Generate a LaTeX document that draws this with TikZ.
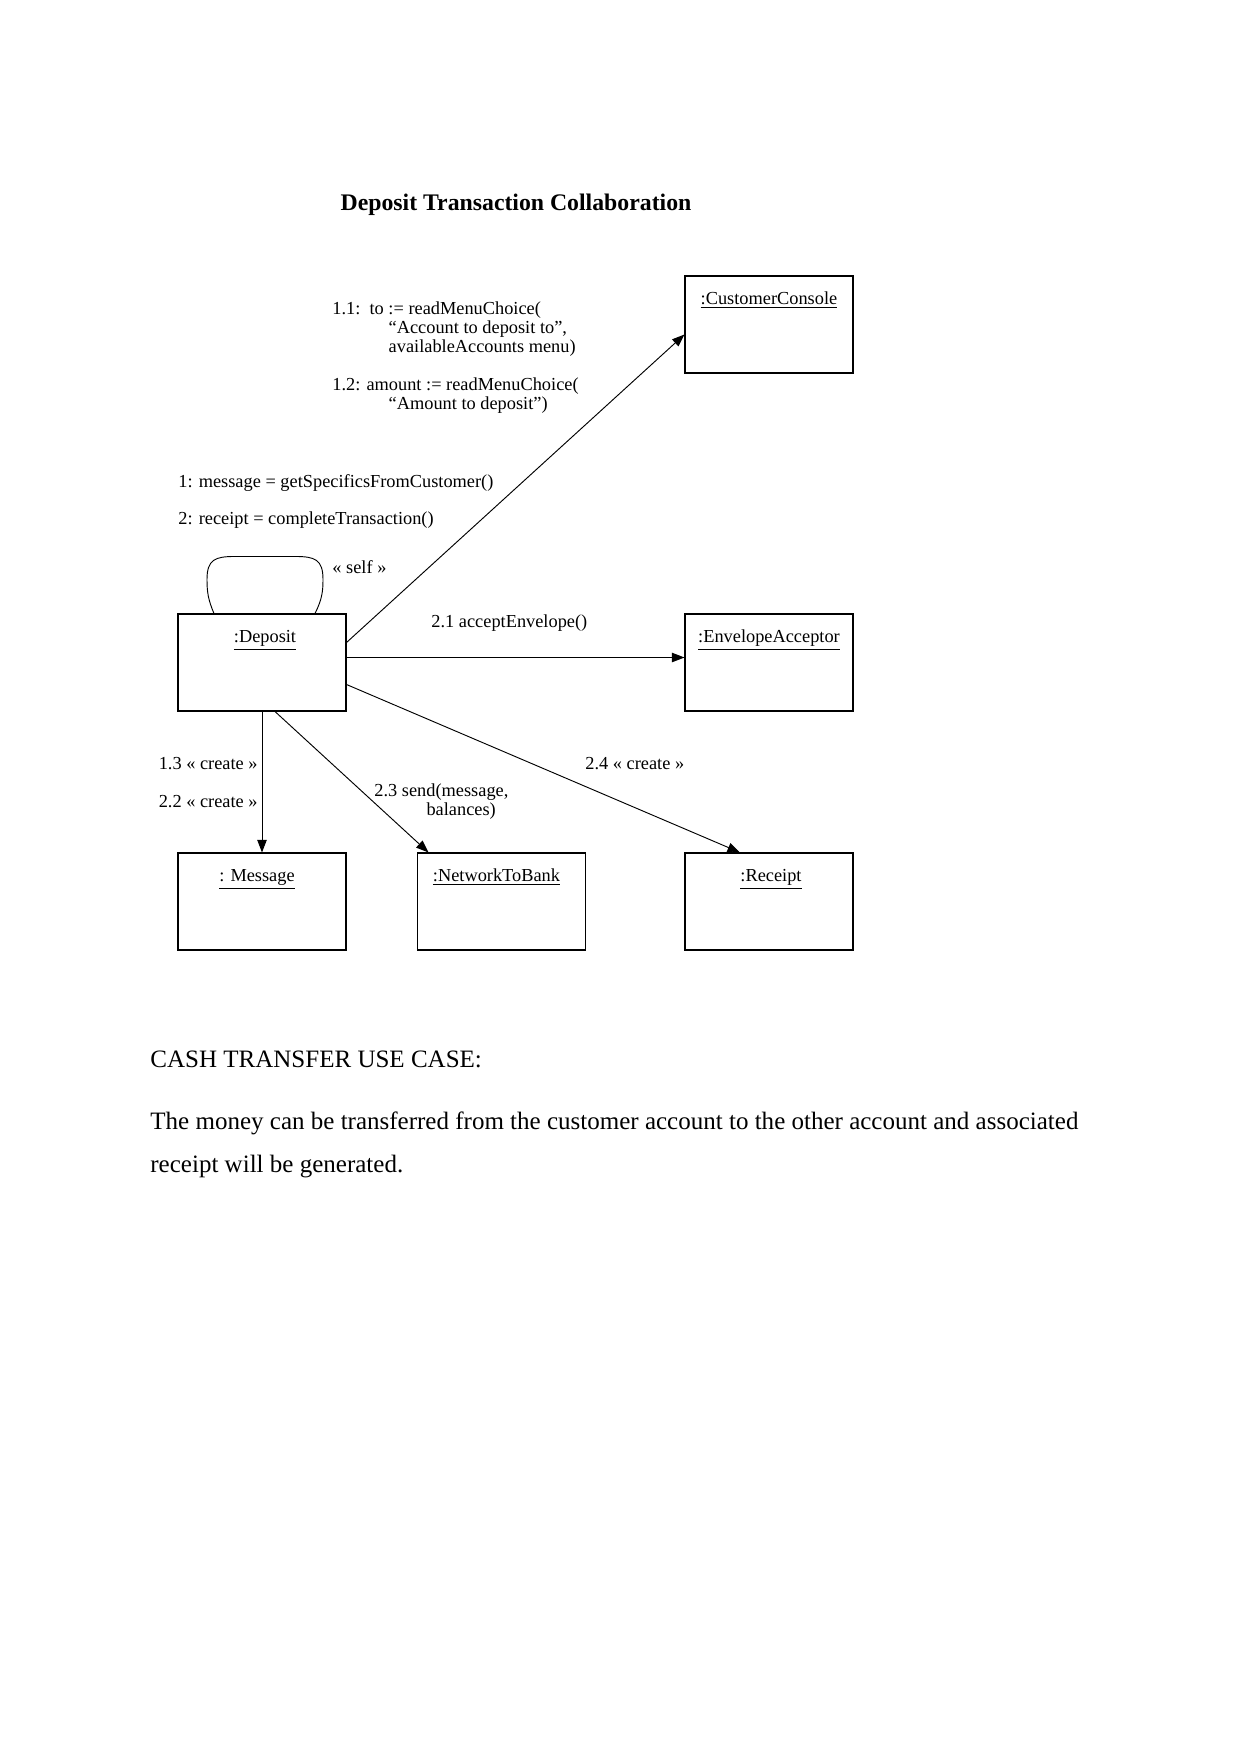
\documentclass[tikz,border=0pt]{standalone}
\usepackage{fontspec}
\setmainfont{Liberation Serif}
\usetikzlibrary{arrows.meta, calc, positioning}

\newcommand{\pxu}{0.4797pt}
\tikzset{
  objbox/.style={draw, line width=0.5pt, minimum width=168*\pxu, minimum height=97*\pxu, inner sep=0pt},
  objname/.style={inner sep=0pt, anchor=base, font=\fontsize{8.8}{9.1}\selectfont},
  msglabel/.style={inner sep=0pt, anchor=west, align=left, font=\fontsize{8.8}{9.1}\selectfont},
  bodytext/.style={inner sep=0pt, anchor=west, font=\fontsize{12}{14}\selectfont},
  conn/.style={line width=0.45pt},
}

\begin{document}
\begin{tikzpicture}[>={Triangle[length=6pt,width=4.5pt]}, x=\pxu, y=-\pxu]
\useasboundingbox (0,0) rectangle (1241,1754);

%------------------------------------------------
% Titolo
%------------------------------------------------
\node[inner sep=0pt, font=\fontsize{11.4}{13}\selectfont\bfseries] (title) at (516,205) {Deposit Transaction Collaboration};

%------------------------------------------------
% Oggetti
%------------------------------------------------
\node[objbox] (cc)  at (769,324.5) {};
\node[objbox] (dep) at (262,662.5) {};
\node[objbox] (env) at (769,662.5) {};
\node[objbox] (msg) at (262,901.5) {};
\node[objbox] (ntb) at (501.5,901.5) {};
\node[objbox] (rec) at (769,901.5) {};

% Nomi degli oggetti
\node[objname] (ccL)  at ($(cc.north)+(0,29)$)  {\underline{:CustomerConsole}};
\node[objname] (depL) at ($(dep.north)+(3,29)$) {\underline{:Deposit}};
\node[objname] (envL) at ($(env.north)+(0,29)$) {\underline{:EnvelopeAcceptor}};
\node[objname] (msgL) at ($(msg.north)+(-5,29)$) {\underline{: Message}};
\node[objname] (ntbL) at ($(ntb.north)+(-5,29)$) {\underline{:NetworkToBank}};
\node[objname] (recL) at ($(rec.north)+(2,29)$) {\underline{:Receipt}};

%------------------------------------------------
% Messaggi
%------------------------------------------------
\node[msglabel] (m11) at (332,329) {1.1:\enspace to := readMenuChoice(\\\hspace*{27pt}“Account to deposit to”,\\\hspace*{27pt}availableAccounts menu)};
\node[msglabel] (m12) at (332,395.5) {1.2: amount := readMenuChoice(\\\hspace*{27pt}“Amount to deposit”)};
\node[msglabel] (m1) at (178,483) {1: message = getSpecificsFromCustomer()};
\node[msglabel] (m2) at (178,520) {2: receipt = completeTransaction()};
\node[msglabel] (self) at (332,567) {« self »};
\node[msglabel] (m21) at (431,623) {2.1 acceptEnvelope()};
\node[msglabel, anchor=east] (m13) at (258,764) {1.3 « create »};
\node[msglabel, anchor=east] (m22) at (258,802) {2.2 « create »};
\node[msglabel] (m24) at (585,764) {2.4 « create »};
\node[msglabel] (m23) at (374,801.5) {2.3 send(message,\\\hspace*{25pt}balances)};

%------------------------------------------------
% Collegamenti
%------------------------------------------------
% self loop sopra Deposit
\begin{scope}[shift={(dep.north)}]
\draw[conn] (-48,0) .. controls (-54,-14) and (-55,-22) .. (-55,-34)
  .. controls (-55,-54) and (-47,-57) .. (-27,-57) -- (33,-57)
  .. controls (53,-57) and (61,-54) .. (61,-34)
  .. controls (61,-22) and (60,-14) .. (53,0);
\end{scope}

\draw[conn,->] ($(dep.east)+(0,-20)$) -- ($(cc.west)+(0,10)$);
\draw[conn,->] ($(dep.east)+(0,-5)$) -- ($(env.west)+(0,-5)$);
\draw[conn,->] ($(dep.east)+(0,22)$) -- ($(rec.north)+(-29,0)$);
\draw[conn,->] ($(dep.south)+(13,0)$) -- ($(ntb.north)+(-73,0)$);
\draw[conn,->] (dep.south) -- (msg.north);

%------------------------------------------------
% Testo sotto il diagramma
%------------------------------------------------
\node[bodytext] (uc) at (150,1059) {CASH TRANSFER USE CASE:};
\node[bodytext] (p1) at (150,1123) {The money can be transferred from the customer account to the other account and associated};
\node[bodytext] (p2) at (150,1167) {receipt will be generated.};
\end{tikzpicture}
\end{document}
